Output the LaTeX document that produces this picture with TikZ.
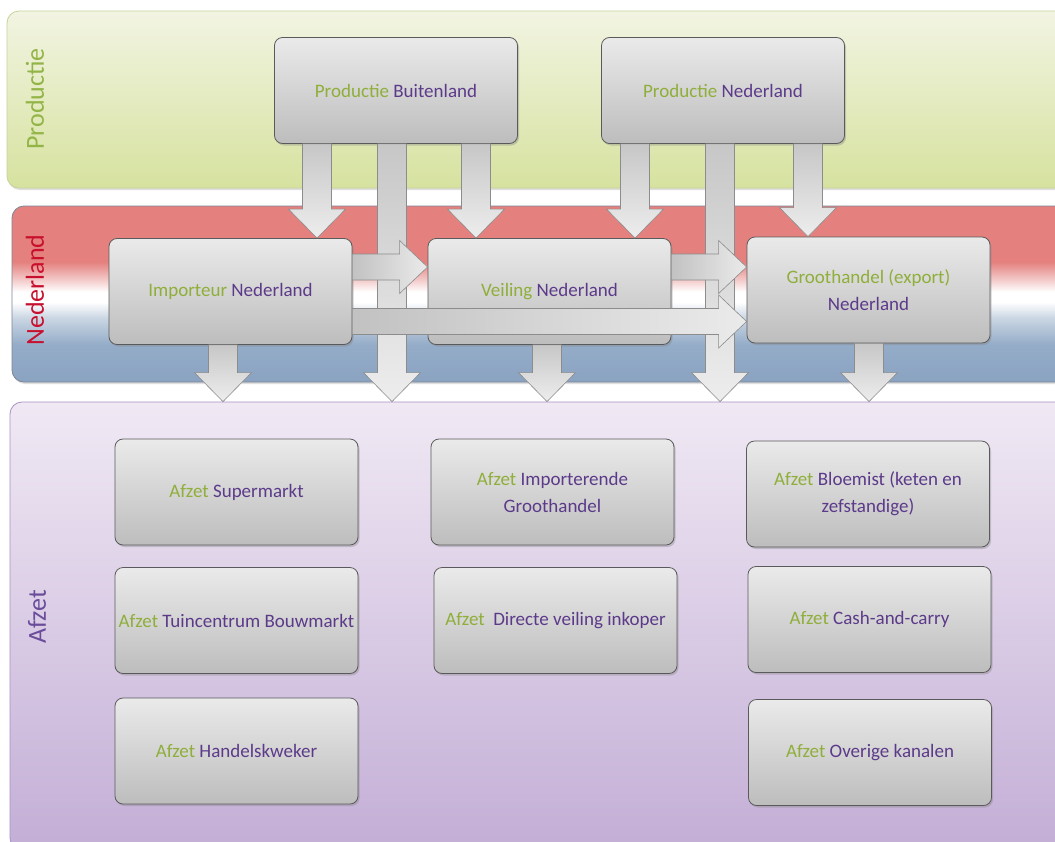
\documentclass[tikz,border=0pt]{standalone}
\usepackage{fontspec}
\setmainfont{Carlito}
\usetikzlibrary{calc,shadows}

\definecolor{tgreen}{HTML}{8FAE3A}
\definecolor{tpurple}{HTML}{5C3A8A}
\definecolor{lblgreen}{HTML}{93B447}
\definecolor{lblred}{HTML}{C8102E}
\definecolor{lblpurple}{HTML}{6B4C9A}
\definecolor{nlred}{HTML}{E4817E}
\definecolor{nlpink}{HTML}{F3CBCA}
\definecolor{nlblue}{HTML}{8AA3C1}
\definecolor{nlblue2}{HTML}{94ACC8}
\definecolor{nllight}{HTML}{CAD6E3}
\definecolor{boxtop}{HTML}{EAEAEA}
\definecolor{boxbot}{HTML}{BDBDBD}
\definecolor{boxline}{HTML}{5A5A5A}
\definecolor{arrowline}{HTML}{8C8C8C}
\definecolor{prodline}{HTML}{C5D39A}
\definecolor{prodtop}{HTML}{F2F4E2}
\definecolor{prodbot}{HTML}{D6E29F}
\definecolor{nlline}{HTML}{7A8698}
\definecolor{afzline}{HTML}{A892C6}
\definecolor{afztop}{HTML}{F0E9F4}
\definecolor{afzbot}{HTML}{C3AED6}

% red-white-blue band shading (path box maps onto 25bp..75bp)
\pgfdeclareverticalshading{nlflag}{100bp}{%
  color(0bp)=(nlblue); color(25bp)=(nlblue); color(35.5bp)=(nlblue2);
  color(43.2bp)=(nllight); color(47.7bp)=(white); color(50.6bp)=(white);
  color(54bp)=(nlpink); color(59.1bp)=(nlred); color(75bp)=(nlred);
  color(100bp)=(nlred)}

\newcommand\gt[1]{\textcolor{tgreen}{#1}}

% block arrow pointing down: x position, source node, target node
\newcommand\blkdown[3]{%
  \path[blkv] let \p1=(#2.south), \p2=(#3.north) in
    (#1pt-14.5pt,\y1) -- (#1pt+14.5pt,\y1) -- (#1pt+14.5pt,\y2+29pt)
    -- (#1pt+28.5pt,\y2+29pt) -- (#1pt,\y2) -- (#1pt-28.5pt,\y2+29pt)
    -- (#1pt-14.5pt,\y2+29pt) -- cycle;}
% block arrow pointing right: y position, source node, target node
\newcommand\blkright[3]{%
  \path[blkh] let \p1=(#2.east), \p2=(#3.west) in
    (\x1,-#1pt+13pt) -- (\x2-28pt,-#1pt+13pt) -- (\x2-28pt,-#1pt+26.5pt)
    -- (\x2,-#1pt) -- (\x2-28pt,-#1pt-26.5pt) -- (\x2-28pt,-#1pt-13pt)
    -- (\x1,-#1pt-13pt) -- cycle;}

\tikzset{
  band/.style={rounded corners=12pt, line width=0.8pt, inner sep=0pt,
    drop shadow={shadow xshift=1pt, shadow yshift=-2pt, opacity=0.25}},
  bandlabel/.style={rotate=90, font=\fontsize{26}{30}\selectfont},
  flowbox/.style={draw=boxline, line width=0.8pt, rounded corners=8pt,
    top color=boxtop, bottom color=boxbot, minimum width=243pt,
    minimum height=106pt, inner sep=1pt, align=center, text=tpurple,
    font=\fontsize{19}{27}\selectfont,
    drop shadow={shadow xshift=1.5pt, shadow yshift=-2pt, opacity=0.35}},
  blkv/.style={draw=arrowline, line width=0.6pt, top color=black!22,
    bottom color=black!7},
  blkh/.style={draw=arrowline, line width=0.6pt, left color=black!24,
    right color=black!8},
}

\begin{document}
\begin{tikzpicture}[x=1pt, y=-1pt]
\useasboundingbox (0,0) rectangle (1055,841);
\clip (0,0) rectangle (1055,841);
\fill[white] (0,0) rectangle (1055,841);

% layer bands
\node[band, draw=prodline, top color=prodtop, bottom color=prodbot,
  minimum width=1063pt, minimum height=177pt] (bandP) at (538.5,99.5) {};
\node[band, draw=nlline, shading=nlflag,
  minimum width=1058pt, minimum height=176pt] (bandN) at (541,294) {};
\node[band, draw=afzline, top color=afztop, bottom color=afzbot,
  minimum width=1060pt, minimum height=448pt] (bandA) at (540,626) {};

\node[bandlabel, text=lblgreen] (lblP) at (35,99) {Productie};
\node[bandlabel, text=lblred] (lblN) at (35,290) {Nederland};
\node[bandlabel, text=lblpurple] (lblA) at (37,617) {Afzet};

% production
\node[flowbox] (pb) at (396,90.5) {\gt{Productie} Buitenland};
\node[flowbox] (pn) at (723,90.5) {\gt{Productie} Nederland};

% Dutch trade
\node[flowbox] (imp) at (230.5,291.5) {\gt{Importeur} Nederland};
\node[flowbox] (veil) at (549.5,291.5) {\gt{Veiling} Nederland};
\node[flowbox] (groot) at (868.5,290) {\gt{Groothandel (export)}\\Nederland};

% sales channels
\node[flowbox] (a1) at (236.5,492) {\gt{Afzet} Supermarkt};
\node[flowbox] (a2) at (552.5,492) {\gt{Afzet} Importerende\\Groothandel};
\node[flowbox] (a3) at (868,494) {\gt{Afzet} Bloemist (keten en\\zefstandige)};
\node[flowbox] (a4) at (236.5,620.5) {\gt{Afzet} Tuincentrum Bouwmarkt};
\node[flowbox] (a5) at (555.5,620.5) {\gt{Afzet}~ Directe veiling inkoper};
\node[flowbox] (a6) at (869.5,619.5) {\gt{Afzet} Cash-and-carry};
\node[flowbox] (a7) at (236.5,751) {\gt{Afzet} Handelskweker};
\node[flowbox] (a8) at (870,752.5) {\gt{Afzet} Overige kanalen};

% flows downwards
\blkdown{317}{pb}{imp}
\blkdown{392}{pb}{bandA}
\blkdown{476}{pb}{veil}
\blkdown{635}{pn}{veil}
\blkdown{720}{pn}{bandA}
\blkdown{808}{pn}{groot}
\blkdown{223}{imp}{bandA}
\blkdown{547}{veil}{bandA}
\blkdown{869}{groot}{bandA}

% flows to the right
\blkright{267}{imp}{veil}
\blkright{267}{veil}{groot}
\blkright{321.5}{imp}{groot}
\end{tikzpicture}
\end{document}
